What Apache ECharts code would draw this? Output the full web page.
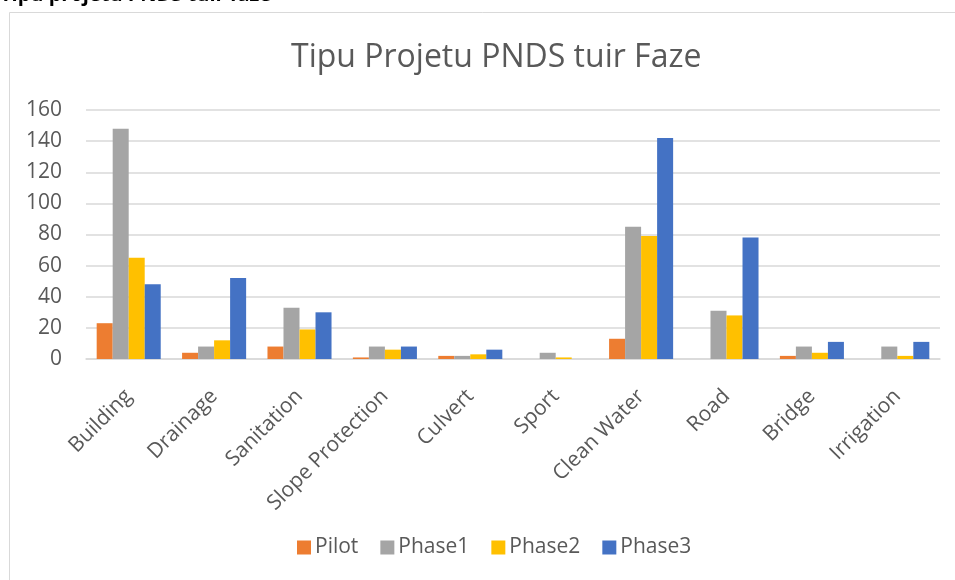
<!DOCTYPE html>
<html>
<head>
<meta charset="utf-8">
<script src="https://cdn.jsdelivr.net/npm/echarts@6/dist/echarts.min.js"></script>
<style>html,body{margin:0;padding:0;background:#fff;}#c{width:955px;height:580px;}</style>
</head>
<body>
<div id="c"></div>
<script>
const categories = ["Building","Drainage","Sanitation","Slope Protection","Culvert","Sport","Clean Water","Road","Bridge","Irrigation"];
const pilot  = [23, 4, 8, 1, 2, 0, 13, 0, 2, 0];
const phase1 = [148, 8, 33, 8, 2, 4, 85, 31, 8, 8];
const phase2 = [65, 12, 19, 6, 3, 1, 79, 28, 4, 2];
const phase3 = [48, 52, 30, 8, 6, 0, 142, 78, 11, 11];
const seriesNames = ["Pilot","Phase1","Phase2","Phase3"];
const yTicks = [0, 20, 40, 60, 80, 100, 120, 140, 160];

const colors = ["#ED7D31","#A5A5A5","#FFC000","#4472C4"];
const font = "'Open Sans', 'Noto Sans', sans-serif";
const chart = echarts.init(document.getElementById('c'), null, {renderer:'canvas'});
const dataSets = [pilot, phase1, phase2, phase3];
chart.setOption({
  animation: false,
  backgroundColor: '#fff',
  color: colors,
  graphic: [
    {type:'rect', shape:{x:9.5, y:12.5, width:980, height:620}, style:{fill:'none', stroke:'#d9d9d9', lineWidth:1}, silent:true, z:0},
    {type:'text', x:0, y:5, style:{text:'Tipu projetu PNDS tuir faze', font:"bold 20px " + font, fill:'#000', verticalAlign:'bottom', align:'left'}, silent:true, z:10}
  ],
  title: {
    text: 'Tipu Projetu PNDS tuir Faze',
    left: 286, top: 37,
    textStyle: {fontFamily: font, fontSize: 32, fontWeight: 'normal', color: '#595959'}
  },
  legend: {
    data: seriesNames,
    bottom: 17, left: 292,
    itemWidth: 14, itemHeight: 14, itemGap: 22,
    icon: 'rect',
    textStyle: {fontFamily: font, fontSize: 21, color: '#595959', padding:[0,0,0,-1]}
  },
  grid: {left: 86, right: 15, top: 110, bottom: 221, containLabel: false, outerBoundsMode: 'none'},
  xAxis: {
    type: 'category',
    data: categories,
    axisLine: {show: true, lineStyle: {color: '#d9d9d9', width: 1.5}},
    axisTick: {show: false},
    axisLabel: {rotate: 45, fontFamily: font, fontSize: 21, color: '#595959', margin: 34, interval: 0}
  },
  yAxis: {
    type: 'value',
    min: 0, max: 160, interval: 20,
    axisLine: {show: false},
    axisTick: {show: false},
    axisLabel: {fontFamily: font, fontSize: 21, color: '#595959', margin: 24, align: 'right',
      formatter: v => yTicks.includes(v) ? String(v) : ''},
    splitLine: {lineStyle: {color: '#d9d9d9', width: 1.5}}
  },
  series: seriesNames.map((n, i) => ({
    name: n, type: 'bar', data: dataSets[i],
    barGap: '0%', barCategoryGap: '25%',
    itemStyle: {color: colors[i]}
  }))
});
</script>
</body>
</html>
